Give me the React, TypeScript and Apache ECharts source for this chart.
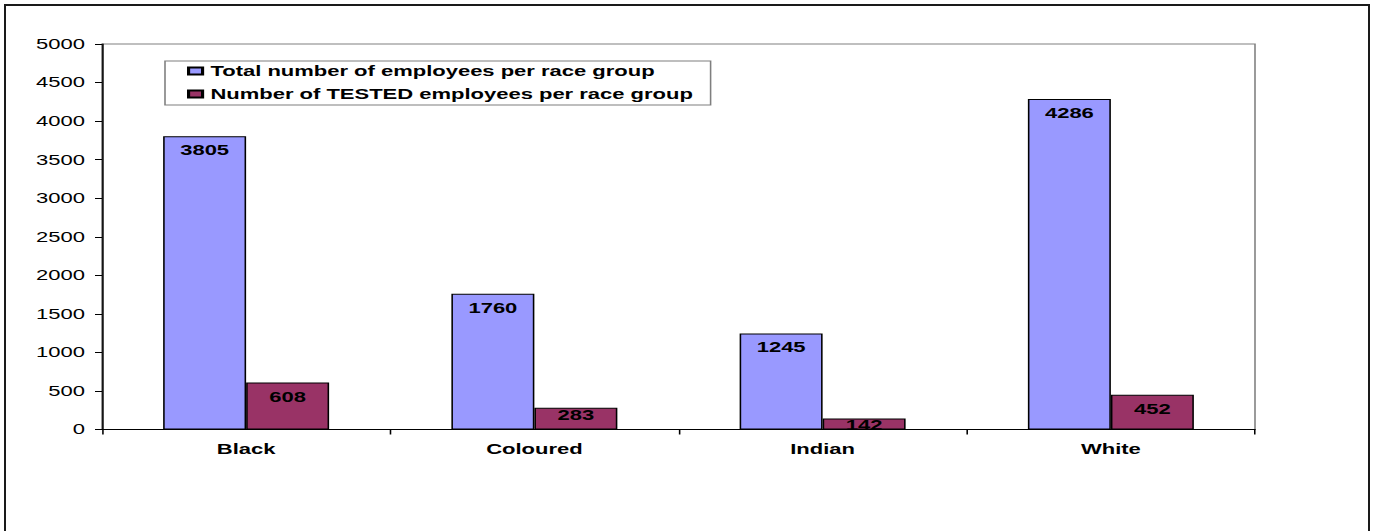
import React, { useEffect, useRef } from "react";
import * as echarts from "echarts";

const categories = ["Black", "Coloured", "Indian", "White"];
const totalEmployees = [3805, 1760, 1245, 4286];
const testedEmployees = [608, 283, 142, 452];
const seriesNames = [
  "Total number of employees per race group",
  "Number of TESTED employees per race group",
];
const yMin = 0;
const yMax = 5000;
const yInterval = 500;

// The reference is horizontally stretched; render narrower and scale in X.
const FULL_W = 1375;
const H = 531;
const S = 1.5714;
const W = Math.round(FULL_W / S);
const FONT = "'Liberation Sans', Arial, sans-serif";

export default function App() {
  const ref = useRef<HTMLDivElement>(null);
  useEffect(() => {
    if (!ref.current) return;
    const chart = echarts.init(ref.current, null, { renderer: "svg" });
    const x = (v: number) => v / S;
    const frameColor = "#1a1a1a";
    const labelBase = {
      show: true,
      position: "insideTop",
      distance: 7,
      fontFamily: FONT,
      fontSize: 14,
      fontWeight: "bold",
      color: "#000",
    };
    // short bars: label sits right at the bar's top edge
    const toData = (arr: number[]) =>
      arr.map((v) => (v < 400 ? { value: v, label: { distance: 0 } } : v));
    const option: any = {
      animation: false,
      backgroundColor: "#ffffff",
      textStyle: { fontFamily: FONT },
      grid: {
        left: x(102),
        right: W - x(1255),
        top: 44,
        bottom: H - 429.5,
        show: true,
        borderColor: "#808080",
        borderWidth: 1,
        backgroundColor: "#ffffff",
        containLabel: false,
      },
      legend: {
        orient: "vertical",
        left: x(165),
        top: 61,
        padding: [2, 11, 3, 14],
        backgroundColor: "#ffffff",
        borderColor: "#7f7f7f",
        borderWidth: 1,
        itemWidth: x(14),
        itemHeight: 7,
        itemGap: 7,
        icon: "rect",
        textStyle: {
          fontFamily: FONT,
          fontSize: 14,
          fontWeight: "bold",
          color: "#000",
          lineHeight: 16,
        },
        data: seriesNames,
      },
      xAxis: {
        type: "category",
        data: categories,
        axisLine: { lineStyle: { color: "#000", width: 1 } },
        axisTick: { show: true, alignWithLabel: false, length: 5, lineStyle: { color: "#000" } },
        axisLabel: {
          fontFamily: FONT,
          fontSize: 14,
          fontWeight: "bold",
          color: "#000",
          margin: 13,
        },
        splitLine: { show: false },
      },
      yAxis: {
        type: "value",
        min: yMin,
        max: yMax,
        interval: yInterval,
        axisLine: { show: true, lineStyle: { color: "#000", width: 1 } },
        axisTick: { show: true, length: x(7), lineStyle: { color: "#000" } },
        axisLabel: {
          fontFamily: FONT,
          fontSize: 14,
          color: "#000",
          margin: x(17),
          formatter: (v: number) => String(v),
        },
        splitLine: { show: false },
      },
      series: [
        {
          name: seriesNames[0],
          type: "bar",
          data: toData(totalEmployees),
          barWidth: x(83),
          barGap: "0%",
          itemStyle: { color: "#9999ff", borderColor: "#000", borderWidth: 1 },
          label: labelBase,
        },
        {
          name: seriesNames[1],
          type: "bar",
          data: toData(testedEmployees),
          barWidth: x(83),
          barGap: "0%",
          itemStyle: { color: "#993366", borderColor: "#000", borderWidth: 1 },
          label: labelBase,
        },
      ],
      graphic: [
        {
          type: "line",
          silent: true,
          shape: { x1: x(5), y1: 5, x2: x(5), y2: H + 20 },
          style: { stroke: frameColor, lineWidth: 2 / S },
        },
        {
          type: "line",
          silent: true,
          shape: { x1: x(4), y1: 5, x2: x(1370), y2: 5 },
          style: { stroke: frameColor, lineWidth: 2 },
        },
        {
          type: "line",
          silent: true,
          shape: { x1: x(1369), y1: 5, x2: x(1369), y2: H + 20 },
          style: { stroke: frameColor, lineWidth: 2 / S },
        },
      ],
    };
    chart.setOption(option);
    return () => chart.dispose();
  }, []);

  return (
    <div
      style={{
        position: "absolute",
        left: 0,
        top: 0,
        width: FULL_W,
        height: H,
        overflow: "hidden",
        background: "#fff",
      }}
    >
      <div
        ref={ref}
        style={{
          width: W,
          height: H,
          transform: `scaleX(${S})`,
          transformOrigin: "0 0",
        }}
      />
    </div>
  );
}
